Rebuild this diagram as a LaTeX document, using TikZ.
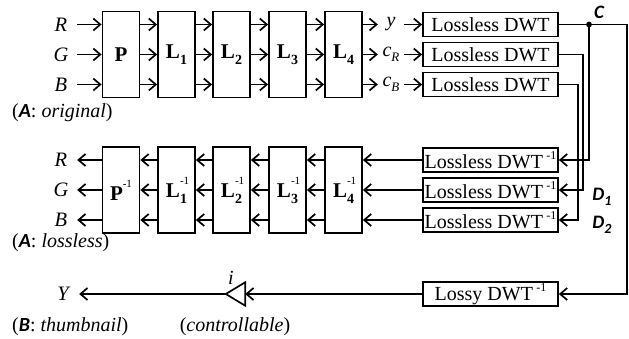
\documentclass[tikz,border=0pt]{standalone}
\usepackage{fontspec}
\setmainfont{Liberation Serif}
\newfontfamily\calfont{Carlito}
\usetikzlibrary{arrows.meta}
\newcommand\supsub[2]{\rlap{\raisebox{0.62em}{\fontsize{11}{11}\selectfont\mdseries #1}}\raisebox{-0.28em}{\fontsize{14}{14}\selectfont #2}}
\newcommand\sub[1]{\raisebox{-0.28em}{\fontsize{14}{14}\selectfont #1}}
\newcommand\tsub[1]{\raisebox{-0.25em}{\fontsize{13}{13}\selectfont #1}}
\newcommand\invsup{\,\raisebox{0.42em}{\fontsize{12}{12}\selectfont -1}}
\newcommand\captext[2]{\upshape(\textit{{\calfont\bfseries #1}}: \textit{#2})}
\tikzset{
 blk/.style={draw, line width=1.8pt, minimum width=37pt, minimum height=86pt, inner sep=0pt, font=\fontsize{21}{22}\selectfont\bfseries},
 dwt/.style={draw, line width=1.8pt, minimum width=135pt, minimum height=24pt, inner sep=0pt, font=\fontsize{20}{21}\selectfont},
 lbl/.style={inner sep=0pt, minimum width=32pt, font=\fontsize{20.5}{21}\selectfont\itshape},
 mid/.style={inner sep=0pt, minimum width=26pt, font=\fontsize{20}{21}\selectfont\itshape},
 captxt/.style={inner sep=0pt, anchor=west, font=\fontsize{20}{21}\selectfont},
 tag/.style={inner sep=0pt, font=\fontsize{19}{20}\selectfont\calfont\bfseries\itshape},
 arr/.style={line width=1.7pt, -{Straight Barb[length=7pt,width=12pt,line width=1.7pt]}},
 wire/.style={line width=1.7pt},
}
\begin{document}
\begin{tikzpicture}[x=1pt,y=-1pt]
\useasboundingbox (0,0) rectangle (629,339);
% ---------- forward chain ----------
\node[lbl] (R) at (61,24.5) {R};
\node[lbl] (G) at (61,54.5) {G};
\node[lbl] (B) at (61,84.5) {B};
\node[blk] (P)  at (121,54.5) {P};
\node[blk] (L1) at (176.5,54.5) {L\sub{1}};
\node[blk] (L2) at (231.5,54.5) {L\sub{2}};
\node[blk] (L3) at (287.5,54.5) {L\sub{3}};
\node[blk] (L4) at (343.5,54.5) {L\sub{4}};
\node[mid] (yl) at (391,24.5) {y};
\node[mid] (cr) at (391,54.5) {c\tsub{R}};
\node[mid] (cb) at (391,84.5) {c\tsub{B}};
\node[dwt] (D1) at (490.5,24.5) {Lossless DWT};
\node[dwt] (D2) at (490.5,54.5) {Lossless DWT};
\node[dwt] (D3) at (490.5,84.5) {Lossless DWT};
\foreach \r in {R,G,B}{
  \draw[arr] (\r.east) -- (P.west |- \r);
  \draw[arr] (P.east |- \r) -- (L1.west |- \r);
  \draw[arr] (L1.east |- \r) -- (L2.west |- \r);
  \draw[arr] (L2.east |- \r) -- (L3.west |- \r);
  \draw[arr] (L3.east |- \r) -- (L4.west |- \r);
}
\draw[arr] (L4.east |- yl) -- (yl.west);
\draw[arr] (L4.east |- cr) -- (cr.west);
\draw[arr] (L4.east |- cb) -- (cb.west);
\draw[arr] (yl.east) -- (D1.west);
\draw[arr] (cr.east) -- (D2.west);
\draw[arr] (cb.east) -- (D3.west);
\node[captxt] (capA) at (12,113) {\captext{A}{original}};
% ---------- inverse chain ----------
\node[lbl] (Ri) at (61,160) {R};
\node[lbl] (Gi) at (61,190) {G};
\node[lbl] (Bi) at (61,220) {B};
\node[blk] (Pi)  at (121,190) {P\raisebox{0.62em}{\fontsize{11}{11}\selectfont\mdseries -1}};
\node[blk] (L1i) at (176.5,190) {L\supsub{-1}{1}};
\node[blk] (L2i) at (231.5,190) {L\supsub{-1}{2}};
\node[blk] (L3i) at (287.5,190) {L\supsub{-1}{3}};
\node[blk] (L4i) at (343.5,190) {L\supsub{-1}{4}};
\node[dwt] (I1) at (490.5,160) {Lossless DWT\invsup};
\node[dwt] (I2) at (490.5,190) {Lossless DWT\invsup};
\node[dwt] (I3) at (490.5,220) {Lossless DWT\invsup};
\foreach \r in {Ri,Gi,Bi}{
  \draw[arr] (Pi.west |- \r) -- (\r.east);
  \draw[arr] (L1i.west |- \r) -- (Pi.east |- \r);
  \draw[arr] (L2i.west |- \r) -- (L1i.east |- \r);
  \draw[arr] (L3i.west |- \r) -- (L2i.east |- \r);
  \draw[arr] (L4i.west |- \r) -- (L3i.east |- \r);
}
\draw[arr] (I1.west) -- (L4i.east |- I1);
\draw[arr] (I2.west) -- (L4i.east |- I2);
\draw[arr] (I3.west) -- (L4i.east |- I3);
\node[captxt] (capAl) at (12,243) {\captext{A}{lossless}};
% ---------- routing ----------
\coordinate (cj) at (589,24.5);
\coordinate (rc) at (627,24.5);
\coordinate (x2) at (583,0);
\coordinate (x3) at (578,0);
\node[dwt] (Ly) at (490.5,294) {Lossy DWT\invsup};
\draw[arr] (D1.east) -- (rc) |- (Ly.east);
\draw[arr] (cj) |- (I1.east);
\draw[arr] (D2.east) -- (D2.east -| x2) -- (I2.east -| x2) -- (I2.east);
\draw[arr] (D3.east) -- (D3.east -| x3) -- (I3.east -| x3) -- (I3.east);
\fill (cj) circle (2.9pt);
\node[tag] (tC) at (599,12) {C};
\node[tag] (tD1) at (602,197) {D\sub{1}};
\node[tag] (tD2) at (602,225) {D\sub{2}};
% ---------- thumbnail ----------
\node[inner sep=0pt, minimum width=19pt, minimum height=23pt] (amp) at (235.5,294) {};
\draw[wire] (amp.west) -- (amp.north east) -- (amp.south east) -- cycle;
\node[lbl] (Y) at (63,294) {Y};
\draw[arr] (Ly.west) -- (amp.east);
\draw[arr] (amp.west) -- (Y.east);
\node[inner sep=0pt, font=\fontsize{20}{21}\selectfont\itshape] (il) at (231,278) {i};
\node[inner sep=0pt, font=\fontsize{20}{21}\selectfont] (ctl) at (235,327) {(\textit{controllable})};
\node[captxt] (capB) at (12,327) {\captext{B}{thumbnail}};
\end{tikzpicture}
\end{document}
